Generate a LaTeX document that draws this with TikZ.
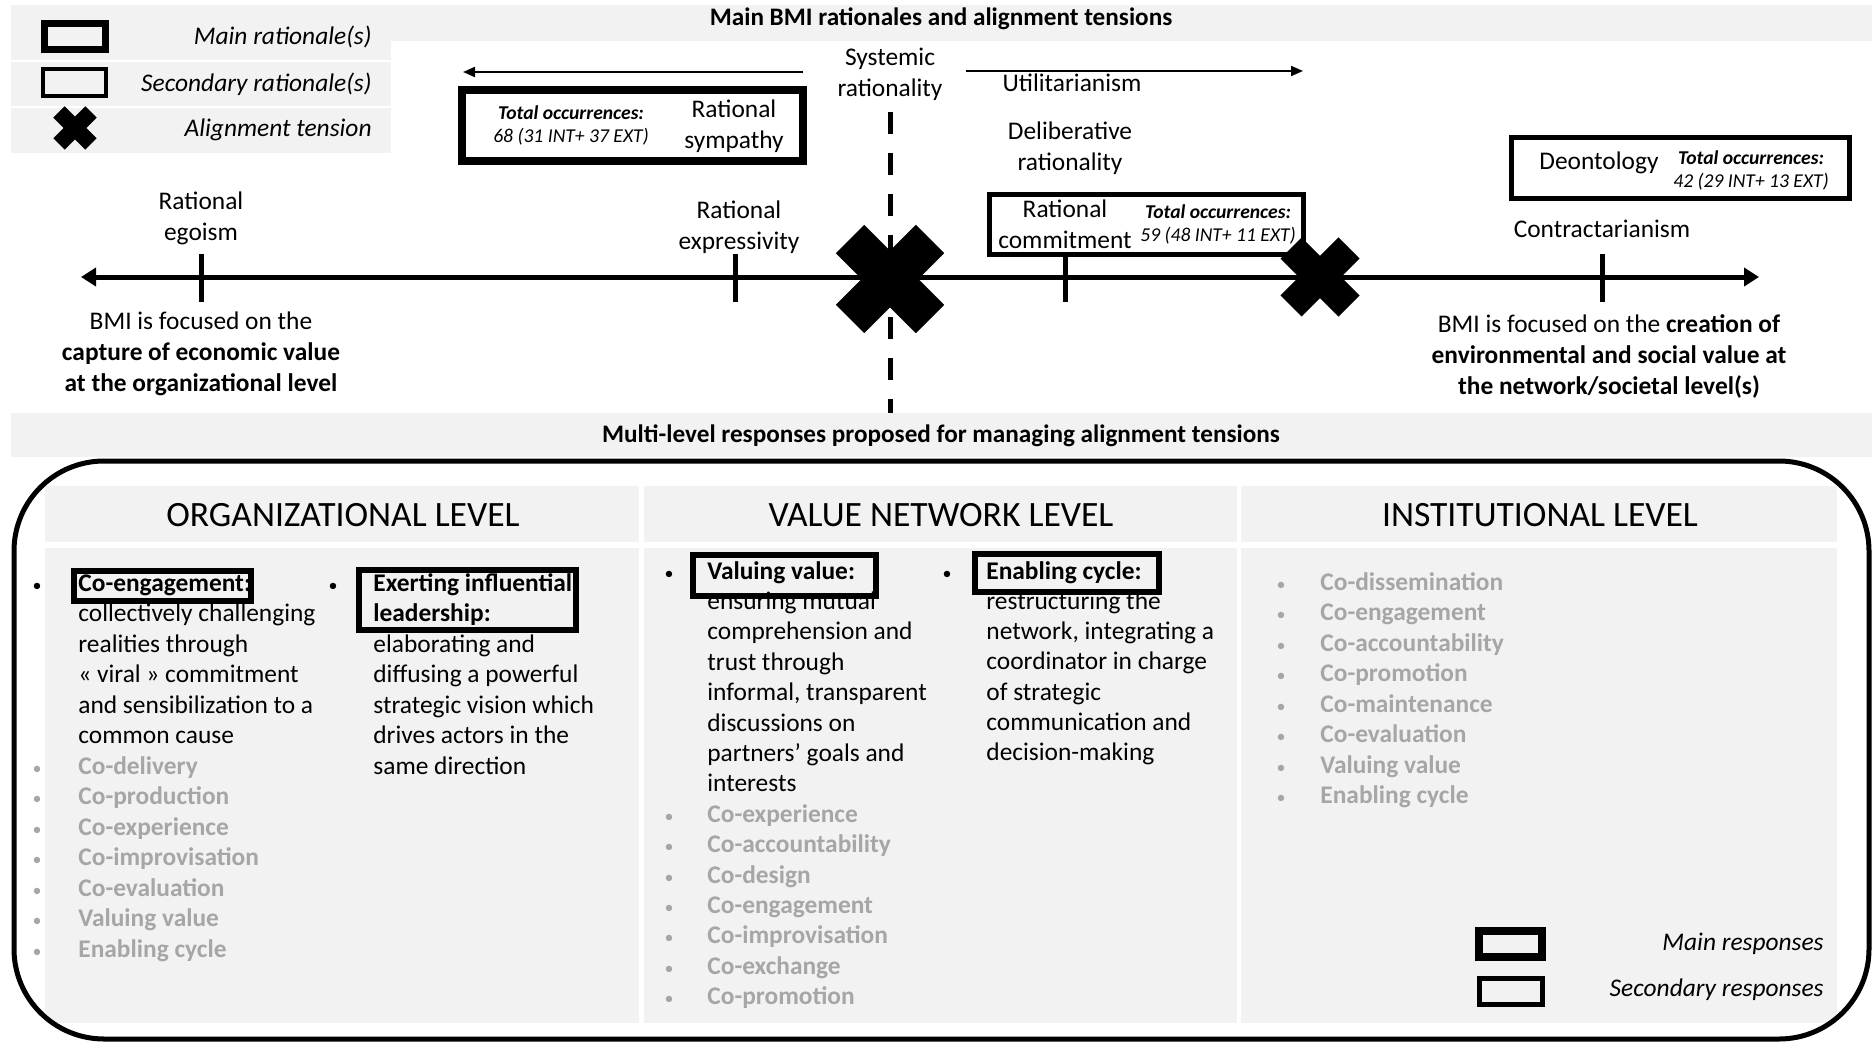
\documentclass[tikz,border=0pt]{standalone}
\usepackage{fontspec}
\setmainfont{Carlito}
\usetikzlibrary{arrows.meta}
\definecolor{fond}{HTML}{F2F2F2}
\definecolor{pale}{HTML}{A6A6A6}
\tikzset{
  txt/.style={inner sep=0pt, font=\fontsize{12.7}{15.5}\selectfont},
  ctxt/.style={txt, align=center},
  grise/.style={inner sep=0pt, text=pale, font=\fontsize{12.7}{15.5}\selectfont\bfseries},
  puce/.style={inner sep=0pt, anchor=base, font=\fontsize{9}{11}\selectfont},
  occ/.style={inner sep=0pt, align=center, font=\fontsize{9.8}{11.5}\selectfont\itshape},
  titre/.style={inner sep=0pt, font=\fontsize{12.6}{14}\selectfont\bfseries},
  niveau/.style={inner sep=0pt, font=\fontsize{17.8}{20}\selectfont},
  legende/.style={inner sep=0pt, anchor=east, font=\fontsize{12.7}{15}\selectfont\itshape},
  principal/.style={draw, line width=4pt},
  secondaire/.style={draw, line width=2.5pt},
  reponse/.style={draw, line width=3pt},
  axe/.style={line width=2.5pt, {Triangle[length=7.5pt,width=9pt]}-{Triangle[length=7.5pt,width=9pt]}},
  fleche/.style={line width=1pt, -{Triangle[length=6pt,width=5pt]}},
  tirets/.style={line width=2.5pt, dash pattern=on 11pt off 9.5pt},
}
\begin{document}
\begin{tikzpicture}[x=0.5pt,y=-0.5pt]
\useasboundingbox (0,0) rectangle (1872,1043);
\fill[white] (0,0) rectangle (1872,1043);

% bandeaux gris
\fill[fond] (11,5) rectangle (1872,41);
\fill[fond] (11,5) rectangle (391,153);
\draw[white, line width=1pt] (11,61) -- (391,61) (11,107) -- (391,107);
\fill[fond] (11,413) rectangle (1872,457);
\node[titre] (titre-haut) at (941,19) {Main BMI rationales and alignment tensions};
\node[titre] (titre-bas) at (941,436) {Multi-level responses proposed for managing alignment tensions};

% legende du haut
\draw[principal, line width=3.5pt] (44.5,23.5) rectangle (105.5,49.5);
\draw[secondaire, line width=2pt] (43,69) rectangle (106,96);
\node[legende] (leg-main) at (372,37) {Main rationale(s)};
\node[legende] (leg-sec) at (372,84) {Secondary rationale(s)};
\node[legende] (leg-tens) at (372,130) {Alignment tension};

% ligne systemique
\coordinate (sys-h) at (890,112);
\coordinate (sys-b) at (890,413);
\draw[tirets] (sys-h) -- (sys-b);
\node[ctxt] (systemic) at (890,74) {Systemic\\rationality};

% fleches du haut
\coordinate (gauche-d) at (803,72);
\coordinate (gauche-f) at (463,72);
\coordinate (droite-d) at (966,71);
\coordinate (droite-f) at (1303,71);
\draw[fleche] (gauche-d) -- (gauche-f);
\draw[fleche] (droite-d) -- (droite-f);
\node[txt, anchor=base] (util) at (1072,92) {Utilitarianism};
\node[ctxt] (delib) at (1070,148) {Deliberative\\rationality};

% axe principal
\coordinate (axe-o) at (81,277);
\coordinate (axe-e) at (1759,277);
\draw[axe] (axe-o) -- (axe-e);
\foreach \x in {201,735,1065,1602} {
  \draw[line width=2.5pt] (\x,254) -- (\x,302);
}

% rationalites
\node[ctxt] (egoism) at (201,218) {Rational\\egoism};
\node[ctxt] (express) at (739,227) {Rational\\expressivity};
\node[ctxt] (commit) at (1065,224) {Rational\\commitment};
\node[txt, anchor=base] (contract) at (1602,238) {Contractarianism};
\node[ctxt] (sympathy) at (734,126) {Rational\\sympathy};
\node[txt, anchor=base] (deonto) at (1599,170) {Deontology};

% occurrences
\node[occ] (occ-symp) at (571,125) {\textbf{Total occurrences:}\\68 (31 INT+ 37 EXT)};
\node[occ] (occ-comm) at (1218,224) {\textbf{Total occurrences:}\\59 (48 INT+ 11 EXT)};
\node[occ] (occ-deon) at (1751,170) {\textbf{Total occurrences:}\\42 (29 INT+ 13 EXT)};
\draw[principal] (462,90) rectangle (803,161);
\draw[secondaire] (989.5,194.5) rectangle (1303.5,254.5);
\draw[secondaire] (1511.5,137.5) rectangle (1849.5,198.5);

% extremites de l'axe
\node[ctxt] (bmi-g) at (201,354) {BMI is focused on the\\\textbf{capture of economic value}\\\textbf{at the organizational level}};
\node[ctxt] (bmi-d) at (1609,356) {BMI is focused on the \textbf{creation of}\\\textbf{environmental and social value at}\\\textbf{the network/societal level(s)}};

% tensions
\foreach \cx/\cy/\d/\w in {75/128/16/8pt, 890/279/40/20pt, 1320/277/29/15pt} {
  \draw[line width=\w] (\cx-\d,\cy-\d) -- (\cx+\d,\cy+\d);
  \draw[line width=\w] (\cx-\d,\cy+\d) -- (\cx+\d,\cy-\d);
}

% panneaux des niveaux
\foreach \xa/\xb in {45/639, 644/1237, 1241/1837} {
  \fill[fond] (\xa,486) rectangle (\xb,542);
  \fill[fond] (\xa,548) rectangle (\xb,1023);
}
\draw[line width=2.5pt, rounded corners=45pt] (14,461) rectangle (1869,1039);
\node[niveau] (niv-org) at (343,515) {ORGANIZATIONAL LEVEL};
\node[niveau] (niv-vn) at (941,515) {VALUE NETWORK LEVEL};
\node[niveau] (niv-inst) at (1540,515) {INSTITUTIONAL LEVEL};

% niveau organisationnel
\node[puce] (puce-oa) at (37,591) {\textbullet};
\foreach \t [count=\i from 0] in {\textbf{Co-engagement:}, collectively challenging, realities through, « viral » commitment, and sensibilization to a, common cause} {
  \node[txt, anchor=base west] (oa-\i) at (78,591+\i*30.5) {\t};
}
\foreach \t [count=\i from 6] in {Co-delivery, Co-production, Co-experience, Co-improvisation, Co-evaluation, Valuing value, Enabling cycle} {
  \node[puce, text=pale] (puce-oa-\i) at (37,591+\i*30.5) {\textbullet};
  \node[grise, anchor=base west] (oa-\i) at (78,591+\i*30.5) {\t};
}
\node[puce] (puce-ob) at (333,591) {\textbullet};
\foreach \t [count=\i from 0] in {\textbf{Exerting influential}, \textbf{leadership:}, elaborating and, diffusing a powerful, strategic vision which, drives actors in the, same direction} {
  \node[txt, anchor=base west] (ob-\i) at (373,591+\i*30.5) {\t};
}
\draw[reponse] (74,571) rectangle (251,601);
\draw[reponse] (359,570) rectangle (576,630);

% niveau reseau de valeur
\node[puce] (puce-va) at (669,579) {\textbullet};
\foreach \t [count=\i from 0] in {\textbf{Valuing value:}, ensuring mutual, comprehension and, trust through, {informal, transparent}, discussions on, partners’ goals and, interests} {
  \node[txt, anchor=base west] (va-\i) at (707,579+\i*30.4) {\t};
}
\foreach \t [count=\i from 8] in {Co-experience, Co-accountability, Co-design, Co-engagement, Co-improvisation, Co-exchange, Co-promotion} {
  \node[puce, text=pale] (puce-va-\i) at (669,579+\i*30.4) {\textbullet};
  \node[grise, anchor=base west] (va-\i) at (707,579+\i*30.4) {\t};
}
\node[puce] (puce-vb) at (947,579) {\textbullet};
\foreach \t [count=\i from 0] in {\textbf{Enabling cycle:}, restructuring the, {network, integrating a}, coordinator in charge, of strategic, communication and, decision-making} {
  \node[txt, anchor=base west] (vb-\i) at (986,579+\i*30.3) {\t};
}
\draw[reponse] (693,555) rectangle (876,596);
\draw[reponse] (975,554) rectangle (1159,592);

% niveau institutionnel
\foreach \t [count=\i from 0] in {Co-dissemination, Co-engagement, Co-accountability, Co-promotion, Co-maintenance, Co-evaluation, Valuing value, Enabling cycle} {
  \node[puce, text=pale] (puce-in-\i) at (1281,590+\i*30.57) {\textbullet};
  \node[grise, anchor=base west] (in-\i) at (1320,590+\i*30.57) {\t};
}

% legende du bas
\draw[principal] (1479,931) rectangle (1542,957);
\draw[secondaire] (1479.5,978.5) rectangle (1542.5,1004.5);
\node[legende] (leg-rep-main) at (1824,944) {Main responses};
\node[legende] (leg-rep-sec) at (1824,990) {Secondary responses};
\end{tikzpicture}
\end{document}
